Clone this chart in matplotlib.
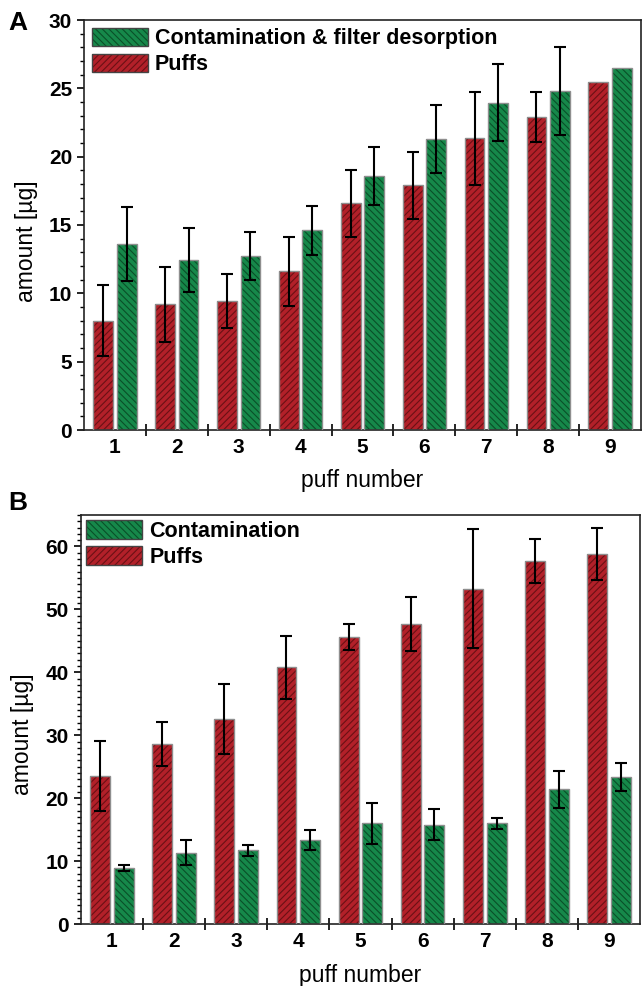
import numpy as np
import matplotlib
matplotlib.use("Agg")
import matplotlib.pyplot as plt
import matplotlib.patches as mpatches
from matplotlib.ticker import MultipleLocator

plt.rcParams['font.family'] = ['Liberation Sans', 'DejaVu Sans']
plt.rcParams['hatch.linewidth'] = 0.8

# puff numbers
puffs = [1, 2, 3, 4, 5, 6, 7, 8, 9]

# panel A
puffs_a = [8.0, 9.2, 9.45, 11.6, 16.6, 17.9, 21.35, 22.9, 25.45]
puffs_a_err = [2.6, 2.75, 2.0, 2.55, 2.45, 2.45, 3.4, 1.85, np.nan]
contam_a = [13.6, 12.45, 12.75, 14.6, 18.6, 21.3, 23.95, 24.8, 26.5]
contam_a_err = [2.7, 2.35, 1.75, 1.8, 2.1, 2.5, 2.8, 3.2, np.nan]

# panel B
puffs_b = [23.5, 28.6, 32.6, 40.8, 45.6, 47.7, 53.3, 57.7, 58.8]
puffs_b_err = [5.6, 3.5, 5.6, 5.0, 2.0, 4.3, 9.5, 3.55, 4.1]
contam_b = [8.85, 11.35, 11.7, 13.35, 16.0, 15.8, 16.0, 21.4, 23.4]
contam_b_err = [0.5, 2.0, 0.9, 1.6, 3.3, 2.5, 0.85, 2.95, 2.25]

red = '#b22029'
red_hatch = '#6a1015'
green = '#16884a'
green_hatch = '#0a4f28'
edge = '#8e8e8e'

fig = plt.figure(figsize=(6.42, 9.86), dpi=100)
axA = fig.add_axes([84 / 642, 1 - 430 / 986, 557 / 642, 410 / 986])
axB = fig.add_axes([80.7 / 642, 1 - 924 / 986, 559.5 / 642, 409 / 986])

x = np.array(puffs)
w = 0.32
off = 0.19


def draw_bars(ax, xs, vals, errs, face, hatch_col, hatch):
    ax.bar(xs, vals, width=w, color=face, edgecolor=hatch_col, hatch=hatch, linewidth=0, zorder=2)
    ax.bar(xs, vals, width=w, fill=False, edgecolor=edge, linewidth=1.0, zorder=3)
    ax.errorbar(xs, vals, yerr=errs, fmt='none', ecolor='black', elinewidth=1.5,
                capsize=4, capthick=1.5, zorder=4)


def handle(face, hatch_col, hatch):
    p1 = mpatches.Patch(facecolor=face, edgecolor=hatch_col, hatch=hatch, linewidth=0)
    p2 = mpatches.Patch(fill=False, edgecolor='#444444', linewidth=1.0)
    return (p1, p2)


def style_axes(ax, ymax, ystep, label_x, label_y, xlabel_y):
    ax.set_xlim(0.5, 9.5)
    ax.set_ylim(0, ymax)
    ax.set_xticks(puffs)
    ax.set_xticklabels([str(p) for p in puffs], fontsize=15, fontweight='bold')
    ax.xaxis.set_minor_locator(matplotlib.ticker.FixedLocator(np.arange(1.5, 9.5, 1)))
    ax.tick_params(axis='x', which='major', length=0, pad=6)
    ax.tick_params(axis='x', which='minor', direction='inout', length=8, width=1.2)
    ax.yaxis.set_major_locator(MultipleLocator(ystep))
    ax.yaxis.set_minor_locator(MultipleLocator(1))
    ax.tick_params(axis='y', which='major', length=5, width=1.2, pad=3.5, labelsize=15)
    ax.tick_params(axis='y', which='minor', length=3, width=1.0)
    for t in ax.get_yticklabels():
        t.set_fontweight('bold')
    for s in ax.spines.values():
        s.set_linewidth(1.2)
        s.set_color('#222222')
    ax.set_ylabel('amount [µg]', fontsize=16.5, va='center')
    ax.yaxis.set_label_coords(label_x, label_y)
    ax.set_xlabel('puff number', fontsize=16.5, va='center')
    ax.xaxis.set_label_coords(0.5, xlabel_y)


# panel A
draw_bars(axA, x - off, puffs_a, puffs_a_err, red, red_hatch, '/////')
draw_bars(axA, x + off, contam_a, contam_a_err, green, green_hatch, '\\\\\\\\\\')
style_axes(axA, 30, 5, -0.103, 0.46, -0.124)
axA.legend([handle(green, green_hatch, '\\\\\\\\\\'), handle(red, red_hatch, '/////')],
           ['Contamination & filter desorption', 'Puffs'],
           loc='upper left', frameon=False, prop={'size': 15.5, 'weight': 'bold'},
           handlelength=2.6, handleheight=0.95, handletextpad=0.35,
           labelspacing=0.2, borderaxespad=0.15, borderpad=0.2)

# panel B
draw_bars(axB, x - off, puffs_b, puffs_b_err, red, red_hatch, '/////')
draw_bars(axB, x + off, contam_b, contam_b_err, green, green_hatch, '\\\\\\\\\\')
style_axes(axB, 65, 10, -0.104, 0.465, -0.125)
axB.legend([handle(green, green_hatch, '\\\\\\\\\\'), handle(red, red_hatch, '/////')],
           ['Contamination', 'Puffs'],
           loc='upper left', frameon=False, prop={'size': 15.5, 'weight': 'bold'},
           handlelength=2.6, handleheight=0.95, handletextpad=0.35,
           labelspacing=0.2, borderaxespad=0.1, borderpad=0.15)

fig.text(18 / 642, 1 - 22.5 / 986, 'A', fontsize=19, fontweight='bold', ha='center', va='center')
fig.text(17.5 / 642, 1 - 503 / 986, 'B', fontsize=19, fontweight='bold', ha='center', va='center')

fig.savefig('out.png', dpi=100)
